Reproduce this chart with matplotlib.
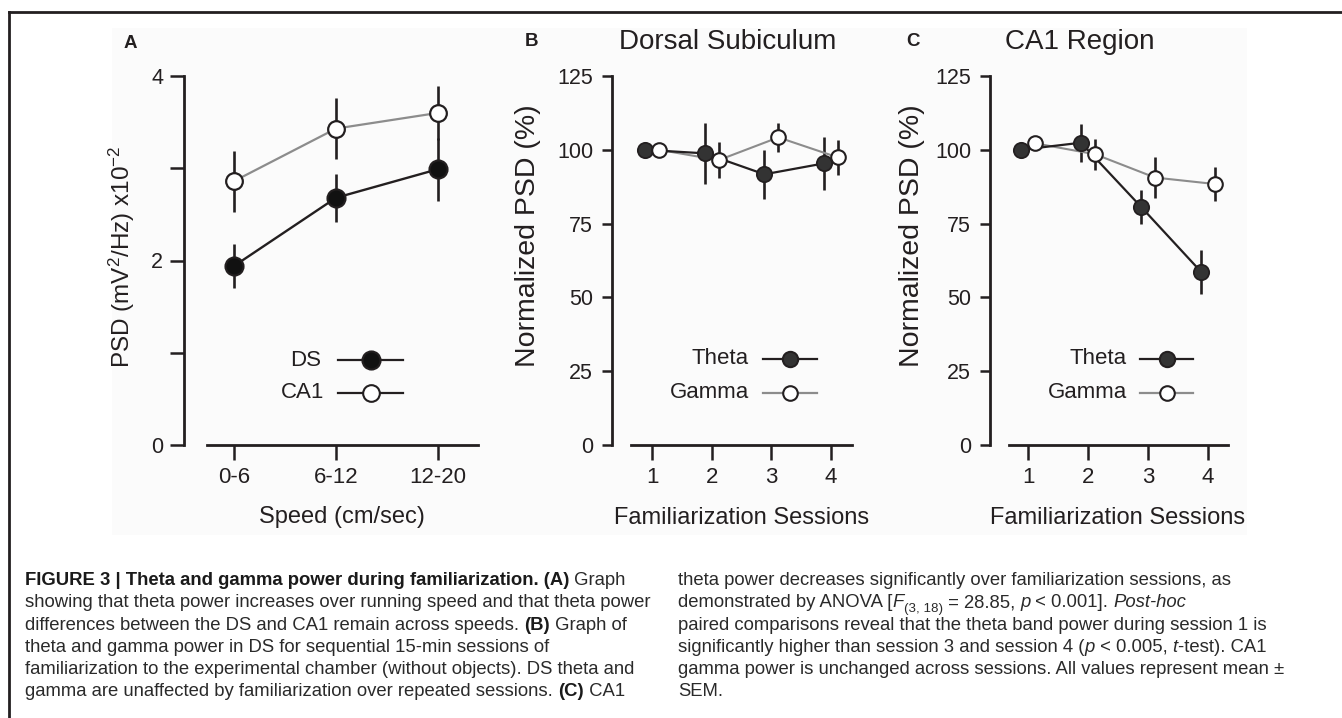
import matplotlib
matplotlib.use('Agg')
import matplotlib.pyplot as plt
from matplotlib.transforms import Affine2D
from matplotlib.patches import Rectangle
from matplotlib.lines import Line2D

plt.rcParams['font.family'] = ['Liberation Sans', 'DejaVu Sans']
plt.rcParams['mathtext.fontset'] = 'custom'
plt.rcParams['mathtext.rm'] = 'Liberation Sans'
plt.rcParams['mathtext.it'] = 'Liberation Sans:italic'
plt.rcParams['mathtext.bf'] = 'Liberation Sans:bold'

# ---------------- data ----------------
speed_labels = ['0-6', '6-12', '12-20']
ds_mean = [1.94, 2.68, 2.99]
ds_sem = [0.24, 0.26, 0.34]
ca1_mean = [2.86, 3.43, 3.60]
ca1_sem = [0.33, 0.33, 0.29]

sessions = [1, 2, 3, 4]
ds_theta = [100, 98.8, 91.7, 95.4]
ds_theta_sem = [0, 10.3, 8.3, 9.0]
ds_gamma = [100, 96.5, 104.2, 97.4]
ds_gamma_sem = [0, 6.0, 5.0, 6.0]
ca1_theta = [100, 102.4, 80.7, 58.7]
ca1_theta_sem = [0, 6.5, 5.8, 7.5]
ca1_gamma = [102.2, 98.5, 90.6, 88.4]
ca1_gamma_sem = [0, 5.2, 7.0, 5.7]

norm_ticks = [0, 25, 50, 75, 100, 125]
psd_ticks = [0, 1, 2, 3, 4]
psd_ticklabels = ['0', '', '2', '', '4']

# ---------------- figure ----------------
W, H = 1342, 718
fig = plt.figure(figsize=(W / 100, H / 100), dpi=100)
fig.patch.set_facecolor('white')
px = Affine2D().scale(1 / W, -1 / H).translate(0, 1) + fig.transFigure

INK = '#231f20'
GRAY = '#8c8c8c'

fig.add_artist(Rectangle((112, 28), 1135, 507, transform=px, facecolor='#fbfbfb',
                         edgecolor='none', zorder=-5))
fig.add_artist(Line2D([9, W], [12, 12], transform=px, color=INK, lw=2.0))
fig.add_artist(Line2D([9, 9], [12, H], transform=px, color=INK, lw=2.0))


def make_axes(l, r, t, b):
    ax = fig.add_axes([l / W, 1 - b / H, (r - l) / W, (b - t) / H])
    ax.set_facecolor('none')
    for s in ('top', 'right'):
        ax.spines[s].set_visible(False)
    for s in ('left', 'bottom'):
        ax.spines[s].set_linewidth(2.0)
        ax.spines[s].set_color(INK)
    return ax


def style_axes(ax, xlim, xbounds, ylim, ytick_len, ypad):
    ax.set_xlim(*xlim)
    ax.set_ylim(*ylim)
    ax.spines['bottom'].set_bounds(*xbounds)
    ax.spines['left'].set_bounds(*ylim)
    ax.tick_params(axis='y', direction='out', length=ytick_len, width=1.8,
                   pad=ypad, labelsize=15.5, colors=INK)
    ax.tick_params(axis='x', direction='out', length=10.5, width=1.8,
                   pad=5, labelsize=16, colors=INK)


# ---------------- panel A ----------------
axA = make_axes(184, 478, 76, 445)
xA = list(range(len(speed_labels)))
axA.errorbar(xA, ds_mean, yerr=ds_sem, fmt='none', ecolor=INK, elinewidth=1.9,
             capsize=0, zorder=2, clip_on=False)
axA.errorbar(xA, ca1_mean, yerr=ca1_sem, fmt='none', ecolor=INK, elinewidth=1.9,
             capsize=0, zorder=2, clip_on=False)
axA.plot(xA, ca1_mean, color=GRAY, lw=1.6, zorder=3, clip_on=False)
axA.plot(xA, ds_mean, color=INK, lw=1.7, zorder=3, clip_on=False)
axA.plot(xA, ds_mean, 'o', ms=13, mfc='#111111', mec=INK, mew=1.5, zorder=4, clip_on=False)
axA.plot(xA, ca1_mean, 'o', ms=12, mfc='white', mec=INK, mew=1.6, zorder=5, clip_on=False)
axA.set_xticks(xA)
axA.set_xticklabels(speed_labels)
axA.set_yticks(psd_ticks)
axA.set_yticklabels(psd_ticklabels)
style_axes(axA, (-0.490, 2.392), (-0.265, 2.392), (0, 4), 10, 5)


def session_panel(l, r, unit, x1px, theta, theta_sem, gamma, gamma_sem):
    ax = make_axes(l, r, 76, 445)
    off = 0.117
    xt = [s - off for s in sessions]
    xg = [s + off for s in sessions]
    ax.errorbar(xt, theta, yerr=theta_sem, fmt='none', ecolor=INK, elinewidth=1.9,
                capsize=0, zorder=2, clip_on=False)
    ax.errorbar(xg, gamma, yerr=gamma_sem, fmt='none', ecolor=INK, elinewidth=1.9,
                capsize=0, zorder=2, clip_on=False)
    ax.plot(xg, gamma, color=GRAY, lw=1.5, zorder=3, clip_on=False)
    ax.plot(xt, theta, color=INK, lw=1.6, zorder=3, clip_on=False)
    ax.plot(xt, theta, 'o', ms=11, mfc='#333333', mec=INK, mew=1.3, zorder=4, clip_on=False)
    ax.plot(xg, gamma, 'o', ms=10.5, mfc='white', mec=INK, mew=1.5, zorder=5, clip_on=False)
    ax.set_xticks(sessions)
    ax.set_yticks(norm_ticks)
    xlim = (1 - (x1px - l) / unit, 1 + (r - x1px) / unit)
    xb0 = 1 - (x1px - l - 19) / unit
    style_axes(ax, xlim, (xb0, xlim[1]), (0, 125), 7.5, 6)
    return ax


axB = session_panel(612, 852, 59.7, 652, ds_theta, ds_theta_sem, ds_gamma, ds_gamma_sem)
axC = session_panel(990, 1228, 60.0, 1028, ca1_theta, ca1_theta_sem, ca1_gamma, ca1_gamma_sem)

# ---------------- labels ----------------
def T(x, y, s, **kw):
    kw.setdefault('color', INK)
    kw.setdefault('ha', 'center')
    kw.setdefault('va', 'center')
    return fig.text(x, y, s, transform=px, **kw)

T(130, 43, 'A', fontsize=13.5, fontweight='bold')
T(532, 42, 'B', fontsize=13.5, fontweight='bold')
T(913, 42, 'C', fontsize=13.5, fontweight='bold')
T(728, 42, 'Dorsal Subiculum', fontsize=20)
T(1080, 42, 'CA1 Region', fontsize=20)
T(122, 257, 'PSD (mV$^{2}$/Hz) x10$^{-2}$', fontsize=17.5, rotation=90)
T(528, 236, 'Normalized PSD (%)', fontsize=20.5, rotation=90)
T(912, 236, 'Normalized PSD (%)', fontsize=20.5, rotation=90)
T(342, 517, 'Speed (cm/sec)', fontsize=17)
T(742, 518, 'Familiarization Sessions', fontsize=17)
T(1118, 518, 'Familiarization Sessions', fontsize=17)

# ---------------- legends ----------------
def legend_row(xtext, y, label, x0, x1, xm, lcolor, mfc, ms):
    T(xtext, y, label, fontsize=16, ha='right')
    fig.add_artist(Line2D([x0, x1], [y, y], transform=px, color=lcolor, lw=1.6))
    fig.add_artist(Line2D([xm], [y], transform=px, marker='o', ms=ms, mfc=mfc,
                          mec=INK, mew=1.5, lw=0))

legend_row(321, 360, 'DS', 338, 403, 371, INK, '#111111', 13)
legend_row(324, 393, 'CA1', 338, 403, 371, INK, 'white', 12)
legend_row(749, 359, 'Theta', 763, 817, 790, INK, '#333333', 11)
legend_row(749, 393, 'Gamma', 763, 817, 790, GRAY, 'white', 10.5)
legend_row(1127, 359, 'Theta', 1140, 1193, 1167, INK, '#333333', 11)
legend_row(1127, 393, 'Gamma', 1140, 1193, 1167, GRAY, 'white', 10.5)

# ---------------- caption ----------------
renderer = fig.canvas.get_renderer()


def text_kw(style, size):
    kw = dict(fontsize=size, color='#2a2a2a', transform=px, ha='left', va='baseline')
    if style == 'b':
        kw['fontweight'] = 'bold'
        kw['color'] = '#1a1a1a'
    elif style == 'i':
        kw['fontstyle'] = 'italic'
    elif style == 'sub':
        kw['fontsize'] = size * 0.72
    return kw


def measure(s, kw):
    t = fig.text(0, 0, s, **kw)
    w = t.get_window_extent(renderer).width
    t.remove()
    return w


def advance(s, kw):
    return measure(s + '|', kw) - measure('|', kw)


ref_line = 'showing that theta power increases over running speed and that theta power'
cap_size = 10 * 630 / measure(ref_line, text_kw('r', 10))


def draw_line(x, y, segs):
    for s, style in segs:
        kw = text_kw(style, cap_size)
        dy = cap_size * 0.28 * 100 / 72 if style == 'sub' else 0
        fig.text(x, y + dy, s, **kw)
        x += advance(s, kw)


left_lines = [
    [('FIGURE 3 | Theta and gamma power during familiarization. (A)', 'b'), (' Graph', 'r')],
    [(ref_line, 'r')],
    [('differences between the DS and CA1 remain across speeds. ', 'r'), ('(B)', 'b'), (' Graph of', 'r')],
    [('theta and gamma power in DS for sequential 15-min sessions of', 'r')],
    [('familiarization to the experimental chamber (without objects). DS theta and', 'r')],
    [('gamma are unaffected by familiarization over repeated sessions. ', 'r'), ('(C)', 'b'), (' CA1', 'r')],
]
right_lines = [
    [('theta power decreases significantly over familiarization sessions, as', 'r')],
    [('demonstrated by ANOVA [', 'r'), ('F', 'i'), ('(3, 18)', 'sub'), (' = 28.85, ', 'r'),
     ('p', 'i'), (' < 0.001]. ', 'r'), ('Post-hoc', 'i')],
    [('paired comparisons reveal that the theta band power during session 1 is', 'r')],
    [('significantly higher than session 3 and session 4 (', 'r'), ('p', 'i'),
     (' < 0.005, ', 'r'), ('t', 'i'), ('-test). CA1', 'r')],
    [('gamma power is unchanged across sessions. All values represent mean \u00b1', 'r')],
    [('SEM.', 'r')],
]

base0, step = 585, 22.3
for i, segs in enumerate(left_lines):
    draw_line(25, base0 + i * step, segs)
for i, segs in enumerate(right_lines):
    draw_line(678, base0 + i * step, segs)

fig.savefig('out.png', dpi=100, facecolor='white')
